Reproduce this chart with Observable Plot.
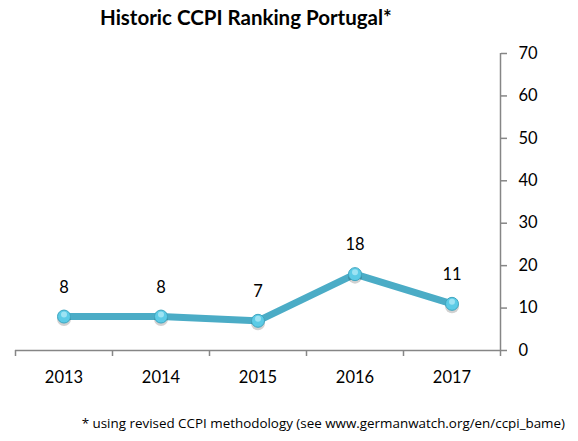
<!DOCTYPE html>
<html>
<head>
<meta charset="utf-8">
<script src="https://cdn.jsdelivr.net/npm/d3@7"></script>
<script src="https://cdn.jsdelivr.net/npm/@observablehq/plot@0.6"></script>
<style>
  body { margin: 0; background: #fff; font-family: Lato, "Open Sans", sans-serif; }
  #wrap { position: relative; width: 578px; height: 441px; }
  #title { position: absolute; left: 100px; top: 5px; white-space: nowrap; font-weight: bold; font-size: 20.5px; color: #000; }
  #note { position: absolute; right: 13px; top: 414px; white-space: nowrap; font-family: "Open Sans", sans-serif; font-size: 13.4px; color: #000; }
  #chart { position: absolute; left: 0; top: 0; }
</style>
</head>
<body>
<div id="wrap">
  <div id="chart"></div>
  <div id="title">Historic CCPI Ranking Portugal*</div>
  <div id="note">* using revised CCPI methodology (see www.germanwatch.org/en/ccpi_bame)</div>
</div>
<script>
const years = [2013, 2014, 2015, 2016, 2017];
const ranks = [8, 8, 7, 18, 11];
const yTicks = [0, 10, 20, 30, 40, 50, 60, 70];
const boundaries = [2012.5, 2013.5, 2014.5, 2015.5, 2016.5, 2017.5];

const data = years.map((y, i) => ({year: y, rank: ranks[i]}));
const axisColor = "#868686";

const chart = Plot.plot({
  width: 578,
  height: 441,
  marginTop: 53,
  marginBottom: 91,
  marginLeft: 15,
  marginRight: 78,
  style: {fontFamily: "Lato, 'Open Sans', sans-serif", fontSize: "16px", color: "#000", background: "#fff"},
  x: {domain: [2012.5, 2017.5]},
  y: {domain: [0, 70]},
  marks: [
    Plot.axisX({ticks: years, tickSize: 0, tickPadding: 21, tickFormat: d => String(d), fontSize: 16.5, label: null}),
    Plot.axisX({ticks: boundaries, tickSize: 6, tickFormat: () => "", stroke: axisColor, strokeWidth: 1.5, label: null}),
    Plot.axisY({anchor: "right", ticks: yTicks, tickSize: 6, tickPadding: 12, stroke: axisColor, strokeWidth: 1.5, fontSize: 16.5, textAnchor: "start", label: null}),
    Plot.ruleY([0], {stroke: axisColor, strokeWidth: 1.5}),
    Plot.ruleX([2017.5], {stroke: axisColor, strokeWidth: 1.5}),
    Plot.line(data, {x: "year", y: "rank", stroke: "#4BACC6", strokeWidth: 7, strokeLinejoin: "round"}),
    Plot.dot(data, {x: "year", y: "rank", r: 7, fill: "#000", fillOpacity: 0.18, stroke: "none", dy: 2.5}),
    Plot.dot(data, {x: "year", y: "rank", r: 6.5, fill: "#5CCBE6", stroke: "#40A6C0", strokeWidth: 1}),
    Plot.dot(data, {x: "year", y: "rank", r: 3, fill: "#9DE3F3", stroke: "none", dy: -2}),
    Plot.text(data, {x: "year", y: "rank", text: d => String(d.rank), dy: -29, fontSize: 16.5, fill: "#000"})
  ]
});
document.getElementById("chart").appendChild(chart);
</script>
</body>
</html>
